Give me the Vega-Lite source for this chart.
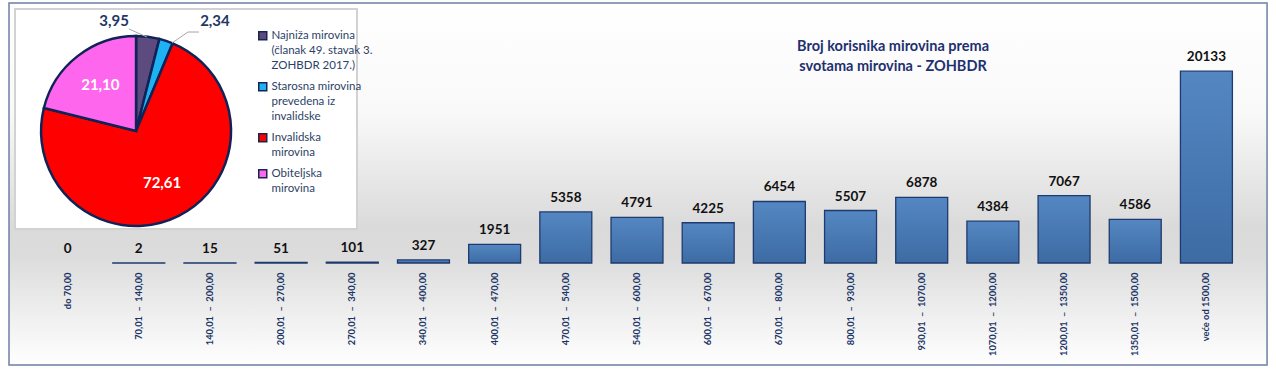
{
  "$schema": "https://vega.github.io/schema/vega-lite/v6.json",
  "width": 1210,
  "height": 263,
  "autosize": {"type": "none"},
  "padding": {"left": 32, "top": 0, "right": 34, "bottom": 107},
  "background": "white",
  "config": {
    "view": {"stroke": null},
    "font": "Lato",
    "style": {"guide-label": {"lineHeight": 15}},
    "locale": {"number": {"decimal": ",", "thousands": ".", "grouping": [3], "currency": ["", " €"]}}
  },
  "datasets": {
    "bars": [
      {"kat": "do 70,00", "broj": 0},
      {"kat": "70,01 – 140,00", "broj": 2},
      {"kat": "140,01 – 200,00", "broj": 15},
      {"kat": "200,01 – 270,00", "broj": 51},
      {"kat": "270,01 – 340,00", "broj": 101},
      {"kat": "340,01 – 400,00", "broj": 327},
      {"kat": "400,01 – 470,00", "broj": 1951},
      {"kat": "470,01 – 540,00", "broj": 5358},
      {"kat": "540,01 – 600,00", "broj": 4791},
      {"kat": "600,01 – 670,00", "broj": 4225},
      {"kat": "670,01 – 800,00", "broj": 6454},
      {"kat": "800,01 – 930,00", "broj": 5507},
      {"kat": "930,01 – 1070,00", "broj": 6878},
      {"kat": "1070,01 – 1200,00", "broj": 4384},
      {"kat": "1200,01 – 1350,00", "broj": 7067},
      {"kat": "1350,01 – 1500,00", "broj": 4586},
      {"kat": "veće od 1500,00", "broj": 20133}
    ],
    "pie": [
      {"n": 1, "vrsta": "Najniža mirovina (članak 49. stavak 3. ZOHBDR 2017.)", "udio": 3.95},
      {"n": 2, "vrsta": "Starosna mirovina prevedena iz invalidske", "udio": 2.34},
      {"n": 3, "vrsta": "Invalidska mirovina", "udio": 72.61},
      {"n": 4, "vrsta": "Obiteljska mirovina", "udio": 21.10}
    ]
  },
  "resolve": {"scale": {"x": "independent", "y": "independent"}},
  "layer": [
    {
      "data": {"values": [{}]},
      "mark": {
        "type": "rect",
        "fill": {"gradient": "linear", "x1": 0, "y1": 0, "x2": 0, "y2": 1,
          "stops": [
            {"offset": 0, "color": "#ffffff"},
            {"offset": 0.3, "color": "#f9f9f9"},
            {"offset": 0.62, "color": "#dadada"},
            {"offset": 0.7, "color": "#dcdcdc"},
            {"offset": 1, "color": "#ffffff"}
          ]},
        "stroke": "#6f7fa3",
        "strokeWidth": 1.5
      },
      "encoding": {
        "x": {"datum": -1.9, "type": "quantitative", "scale": {"domain": [0, 100]}, "axis": null},
        "x2": {"datum": 102.07},
        "y": {"datum": -38.78, "type": "quantitative", "scale": {"domain": [0, 100]}, "axis": null},
        "y2": {"datum": 98.86}
      }
    },
    {
      "data": {"name": "bars"},
      "encoding": {
        "x": {
          "field": "kat", "type": "nominal", "sort": null,
          "scale": {"paddingInner": 0.27, "paddingOuter": 0.135},
          "axis": {
            "title": null, "domain": false, "ticks": false, "zindex": 2,
            "labelAngle": 270, "labelPadding": 9,
            "labelFont": "Lato", "labelFontSize": 9.3, "labelFontWeight": "bold",
            "labelColor": "#1a3466",
            "labelExpr": "replace(datum.label, ' – ', '\u00a0\u00a0–\u00a0\u00a0')"
          }
        },
        "y": {"field": "broj", "type": "quantitative", "scale": {"domain": [0, 27600], "nice": false}, "axis": null}
      },
      "layer": [
        {
          "mark": {
            "type": "bar",
            "color": {"gradient": "linear", "x1": 0, "y1": 0, "x2": 0, "y2": 1,
              "stops": [{"offset": 0, "color": "#5487c2"}, {"offset": 1, "color": "#3d6ba4"}]},
            "strokeWidth": 1.3
          },
          "encoding": {
            "stroke": {"condition": {"test": "datum.broj == 0", "value": null}, "value": "#1f3a6e"}
          }
        },
        {
          "mark": {"type": "text", "baseline": "alphabetic", "dy": -10, "fontSize": 13.5, "fontWeight": "bold", "color": "#111111"},
          "encoding": {"text": {"field": "broj", "type": "quantitative", "format": "d"}}
        }
      ]
    },
    {
      "layer": [
        {
          "data": {"values": [{}]},
          "mark": {"type": "rect", "fill": "white", "stroke": "#d2d2d2", "strokeWidth": 2},
          "encoding": {
            "x": {"datum": -1.405, "type": "quantitative", "scale": {"domain": [0, 100]}, "axis": null},
            "x2": {"datum": 26.86},
            "y": {"datum": 12.93, "type": "quantitative", "scale": {"domain": [0, 100]}, "axis": null},
            "y2": {"datum": 96.58}
          }
        },
        {
          "data": {"name": "pie"},
          "encoding": {
            "x": {"datum": 8.6, "type": "quantitative", "scale": {"domain": [0, 100]}, "axis": null},
            "y": {"datum": 50.19, "type": "quantitative", "scale": {"domain": [0, 100]}, "axis": null},
            "theta": {"field": "udio", "type": "quantitative", "stack": true},
            "order": {"field": "n", "type": "quantitative"}
          },
          "layer": [
            {
              "mark": {"type": "arc", "outerRadius": 95, "stroke": "#0f2358", "strokeWidth": 2.5},
              "encoding": {
                "color": {
                  "field": "vrsta", "type": "nominal",
                  "scale": {
                    "domain": ["Najniža mirovina (članak 49. stavak 3. ZOHBDR 2017.)", "Starosna mirovina prevedena iz invalidske", "Invalidska mirovina", "Obiteljska mirovina"],
                    "range": ["#5d4a7e", "#1eb2f2", "#ff0000", "#ff66ee"]
                  },
                  "legend": {
                    "orient": "none", "legendX": 225, "legendY": 30, "title": null, "padding": 0,
                    "symbolType": "square", "symbolSize": 64, "symbolStrokeColor": "#16264f", "symbolStrokeWidth": 1.5,
                    "labelFont": "Lato", "labelFontSize": 11.5, "labelColor": "#2d3f66", "labelLimit": 0,
                    "labelOffset": 3, "rowPadding": 7,
                    "labelExpr": "datum.label == 'Najniža mirovina (članak 49. stavak 3. ZOHBDR 2017.)' ? ['Najniža mirovina', '(članak 49. stavak 3.', 'ZOHBDR 2017.)'] : datum.label == 'Starosna mirovina prevedena iz invalidske' ? ['Starosna mirovina', 'prevedena iz', 'invalidske'] : split(datum.label, ' ')"
                  }
                }
              }
            },
            {
              "mark": {"type": "text", "radius": 58, "fontSize": 15, "fontWeight": "bold", "color": "white"},
              "encoding": {
                "detail": {"field": "vrsta"},
                "text": {"condition": {"test": "datum.udio > 10", "field": "udio", "format": ".2f"}, "value": ""}
              }
            }
          ]
        },
        {
          "data": {"name": "pie"},
          "transform": [{"filter": "datum.n == 1"}],
          "mark": {"type": "text", "fontSize": 15, "fontWeight": "bold", "color": "#1f3864"},
          "encoding": {
            "x": {"datum": 6.78, "type": "quantitative", "scale": {"domain": [0, 100]}, "axis": null},
            "y": {"datum": 92.02, "type": "quantitative", "scale": {"domain": [0, 100]}, "axis": null},
            "text": {"field": "udio", "type": "quantitative", "format": ".2f"}
          }
        },
        {
          "data": {"name": "pie"},
          "transform": [{"filter": "datum.n == 2"}],
          "mark": {"type": "text", "fontSize": 15, "fontWeight": "bold", "color": "#1f3864"},
          "encoding": {
            "x": {"datum": 15.12, "type": "quantitative", "scale": {"domain": [0, 100]}, "axis": null},
            "y": {"datum": 92.02, "type": "quantitative", "scale": {"domain": [0, 100]}, "axis": null},
            "text": {"field": "udio", "type": "quantitative", "format": ".2f"}
          }
        },
        {
          "data": {"values": [{}]},
          "mark": {"type": "rule", "color": "#a6a6a6", "strokeWidth": 1},
          "encoding": {
            "x": {"datum": 8.02, "type": "quantitative", "scale": {"domain": [0, 100]}, "axis": null},
            "x2": {"datum": 9.5},
            "y": {"datum": 88.97, "type": "quantitative", "scale": {"domain": [0, 100]}, "axis": null},
            "y2": {"datum": 85.93}
          }
        },
        {
          "data": {"values": [{}]},
          "mark": {"type": "rule", "color": "#a6a6a6", "strokeWidth": 1},
          "encoding": {
            "x": {"datum": 11.57, "type": "quantitative", "scale": {"domain": [0, 100]}, "axis": null},
            "x2": {"datum": 12.89},
            "y": {"datum": 83.65, "type": "quantitative", "scale": {"domain": [0, 100]}, "axis": null},
            "y2": {"datum": 87.83}
          }
        },
        {
          "data": {"values": [{}]},
          "mark": {"type": "rule", "color": "#a6a6a6", "strokeWidth": 1},
          "encoding": {
            "x": {"datum": 12.89, "type": "quantitative", "scale": {"domain": [0, 100]}, "axis": null},
            "x2": {"datum": 13.8},
            "y": {"datum": 87.83, "type": "quantitative", "scale": {"domain": [0, 100]}, "axis": null},
            "y2": {"datum": 87.83}
          }
        },
        {
          "data": {"values": [{}]},
          "mark": {"type": "text", "text": ["Broj korisnika mirovina prema", "svotama mirovina - ZOHBDR"], "lineHeight": 20, "fontSize": 14.5, "fontWeight": "bold", "color": "#1f3070", "baseline": "middle", "align": "center"},
          "encoding": {
            "x": {"datum": 71.16, "type": "quantitative", "scale": {"domain": [0, 100]}, "axis": null},
            "y": {"datum": 82.13, "type": "quantitative", "scale": {"domain": [0, 100]}, "axis": null}
          }
        }
      ]
    }
  ]
}
